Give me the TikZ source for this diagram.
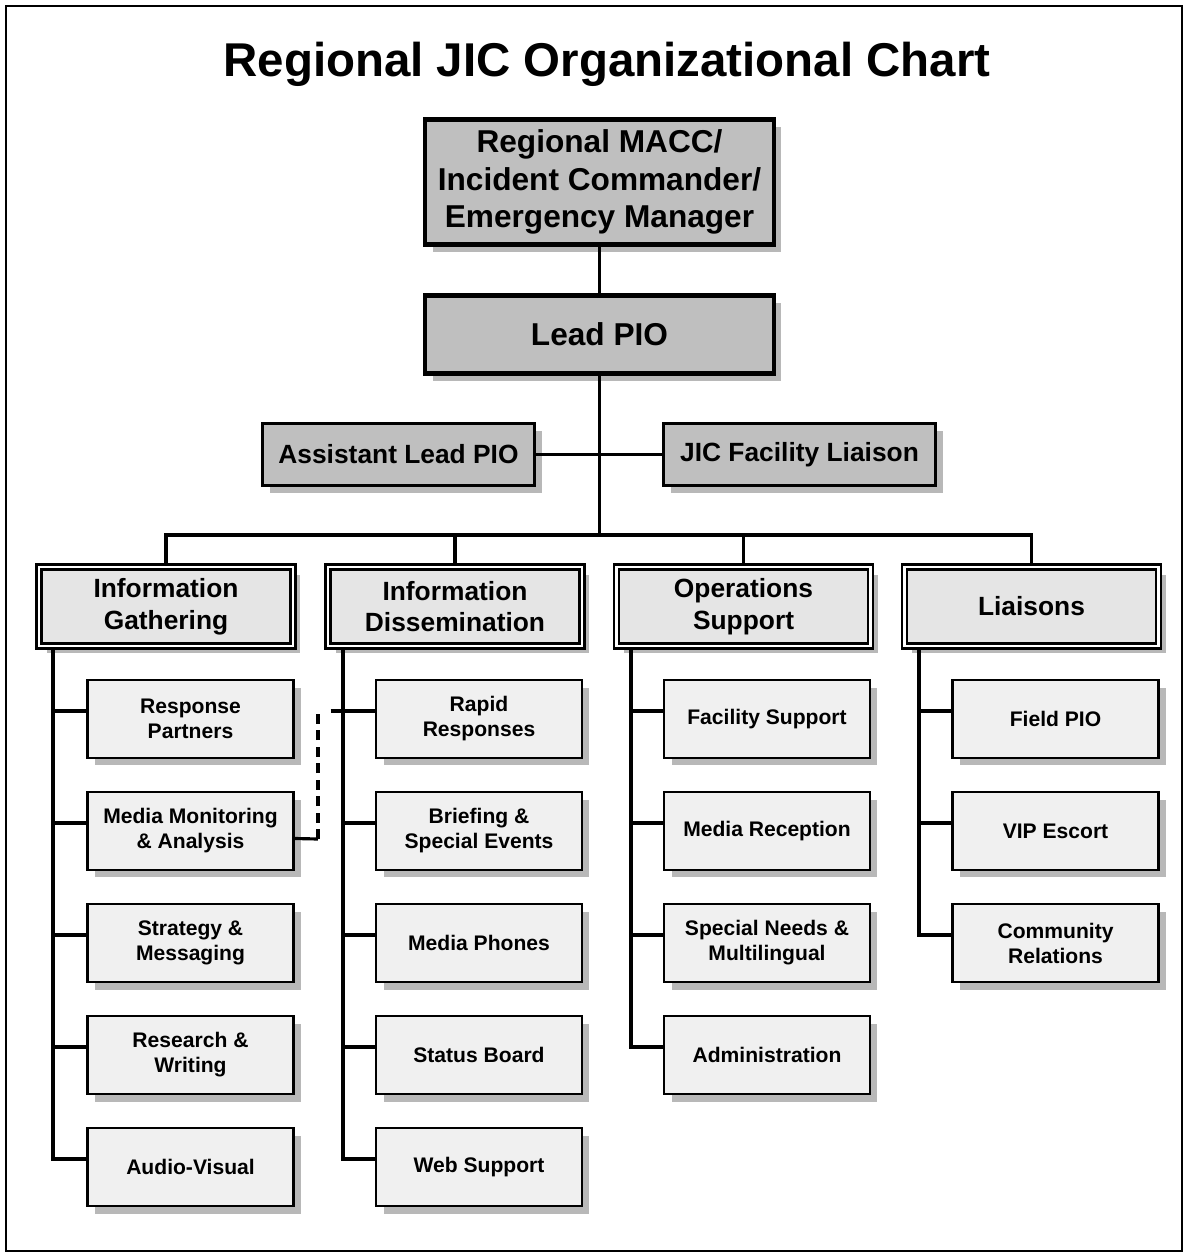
\documentclass[tikz,border=0pt]{standalone}
\usepackage{fontspec}
\setmainfont{Liberation Sans}
\usetikzlibrary{shadows}
\begin{document}
\begin{tikzpicture}[x=0.02cm,y=-0.02cm,
  shad/.style={drop shadow={shadow xshift=0.15cm,shadow yshift=-0.15cm,fill=black!28,opacity=1}},
  bigbox/.style={draw,line width=2.6pt,fill=black!25,inner sep=0pt,align=center,
     minimum width=6.98cm,font=\fontsize{18}{21.5}\selectfont\bfseries,shad},
  midbox/.style={draw,line width=1.5pt,fill=black!25,inner sep=0pt,align=center,
     minimum width=5.44cm,minimum height=1.24cm,font=\fontsize{15}{18}\selectfont\bfseries,shad},
  headbox/.style={draw,line width=1.3pt,double=white,double distance=1.5pt,fill=black!10,
     inner sep=0pt,align=center,minimum width=5.08cm,minimum height=1.58cm,
     font=\fontsize{15}{18}\selectfont\bfseries,shad},
  leafbox/.style={draw,line width=1.5pt,fill=black!6,inner sep=0pt,align=center,
     minimum width=4.12cm,minimum height=1.56cm,
     font=\fontsize{12}{14.2}\selectfont\bfseries,shad},
  conn/.style={line width=1.8pt},
  dashconn/.style={line width=1.8pt,dash pattern=on 0.2cm off 0.13cm}]
\useasboundingbox (0,0) rectangle (1188,1256);
\draw[line width=1.3pt] (6,6) rectangle (1182,1251);

\node (title) at (607,64) {\fontsize{27}{32}\selectfont\bfseries Regional JIC Organizational Chart};

\node[bigbox,minimum height=2.5cm] (top) at (599.5,182) {Regional MACC/\\Incident Commander/\\Emergency Manager};
\node[bigbox,minimum height=1.56cm] (lead) at (599.5,334.5) {Lead PIO};
\node[midbox] (asst) at (398.5,454.5) {Assistant Lead PIO};
\node[midbox] (jic) at (799.5,454.5) {JIC Facility Liaison};

\node[headbox] (h1) at (166,606.5) {Information\\Gathering};
\node[headbox] (h2) at (455,606.5) {Information\\Dissemination};
\node[headbox] (h3) at (743.5,606.5) {Operations\\Support};
\node[headbox] (h4) at (1031.5,606.5) {Liaisons};

% column 1
\node[leafbox] (l1a) at (190.5,719) {Response\\Partners};
\node[leafbox] (l1b) at (190.5,831) {Media Monitoring\\\& Analysis};
\node[leafbox] (l1c) at (190.5,943) {Strategy \&\\Messaging};
\node[leafbox] (l1d) at (190.5,1055) {Research \&\\Writing};
\node[leafbox] (l1e) at (190.5,1167) {Audio-Visual};
% column 2
\node[leafbox] (l2a) at (479,719) {Rapid\\Responses};
\node[leafbox] (l2b) at (479,831) {Briefing \&\\Special Events};
\node[leafbox] (l2c) at (479,943) {Media Phones};
\node[leafbox] (l2d) at (479,1055) {Status Board};
\node[leafbox] (l2e) at (479,1167) {Web Support};
% column 3
\node[leafbox] (l3a) at (767,719) {Facility Support};
\node[leafbox] (l3b) at (767,831) {Media Reception};
\node[leafbox] (l3c) at (767,943) {Special Needs \&\\Multilingual};
\node[leafbox] (l3d) at (767,1055) {Administration};
% column 4
\node[leafbox] (l4a) at (1055.5,719) {Field PIO};
\node[leafbox] (l4b) at (1055.5,831) {VIP Escort};
\node[leafbox] (l4c) at (1055.5,943) {Community\\Relations};

% upper connectors
\coordinate (bus) at (599.5,535);
\draw[conn] (top.south) -- (lead.north);
\draw[conn] (lead.south) -- (bus);
\draw[conn] (asst.east) -- (jic.west);
\draw[conn] (h1.north) |- (bus) -| (h4.north);
\draw[conn] (h2.north) -- (h2.north |- bus);
\draw[conn] (h3.north) -- (h3.north |- bus);

% trunks
\coordinate (t1) at (53,0);
\coordinate (t2) at (343,0);
\coordinate (t3) at (631,0);
\coordinate (t4) at (919,0);
\foreach \l in {l1a,l1b,l1c,l1d,l1e}
  \draw[conn] (t1 |- h1.south) |- ([yshift=0.16cm]\l.west);
\foreach \l in {l2a,l2b,l2c,l2d,l2e}
  \draw[conn] (t2 |- h2.south) |- ([yshift=0.16cm]\l.west);
\foreach \l in {l3a,l3b,l3c,l3d}
  \draw[conn] (t3 |- h3.south) |- ([yshift=0.16cm]\l.west);
\foreach \l in {l4a,l4b,l4c}
  \draw[conn] (t4 |- h4.south) |- ([yshift=0.16cm]\l.west);

% dashed link
\coordinate (dk1) at (318,839);
\coordinate (dk2) at (318,711);
\draw[conn] ([yshift=-0.15cm]l1b.east) -- (dk1);
\draw[dashconn] (dk1) -- (dk2);
\draw[conn] ([xshift=-0.25cm]t2 |- dk2) -- (t2 |- dk2);
\end{tikzpicture}
\end{document}
